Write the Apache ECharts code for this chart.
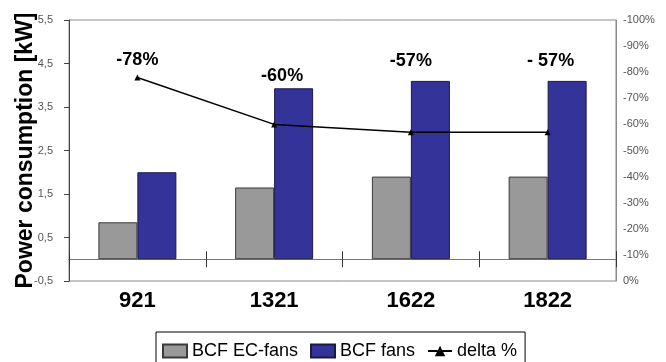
<!DOCTYPE html>
<html>
<head>
<meta charset="utf-8">
<script src="https://cdn.jsdelivr.net/npm/echarts@6/dist/echarts.min.js"></script>
<style>
  html, body { margin: 0; padding: 0; background: #ffffff; }
  #chart { width: 666px; height: 362px; }
</style>
</head>
<body>
<div id="chart"></div>
<script>
// Fan model sizes on the category axis
const categories = ['921', '1321', '1622', '1822'];
// Power consumption [kW]
const ecFans = [0.85, 1.65, 1.9, 1.9];
const bcfFans = [2.0, 3.93, 4.1, 4.1];
// Relative saving, percent (right axis)
const delta = [-78, -60, -57, -57];
const deltaText = ['-78%', '-60%', '-57%', '- 57%'];
// Left axis tick values
const powerTicks = [-0.5, 0.5, 1.5, 2.5, 3.5, 4.5, 5.5];

// Where each percentage caption sits relative to its point [dx, dy]
const captionShift = [[0, -17], [8, -48], [0, -71], [3, -71]];

const FONT = '"Liberation Sans", Arial, sans-serif';

const chart = echarts.init(document.getElementById('chart'), null, { renderer: 'canvas' });

const deltaData = delta.map((v, i) => ({
  value: v,
  label: { offset: captionShift[i] }
}));

chart.setOption({
  animation: false,
  backgroundColor: '#ffffff',
  textStyle: { fontFamily: FONT },
  grid: {
    left: 69, right: 50, top: 20, bottom: 81,
    outerBoundsMode: 'none',
    containLabel: false,
    show: true, borderColor: '#8a8a8a', borderWidth: 1, backgroundColor: 'transparent'
  },
  legend: {
    left: 156, top: 332,
    padding: [10, 8, 10, 6],
    borderColor: '#000000', borderWidth: 1,
    itemWidth: 24, itemHeight: 13, itemGap: 12,
    textStyle: { fontFamily: FONT, fontSize: 18, color: '#000000' },
    data: [
      { name: 'BCF EC-fans', icon: 'rect' },
      { name: 'BCF fans', icon: 'rect' },
      { name: 'delta %' }
    ]
  },
  xAxis: [
    {
      type: 'category',
      data: categories,
      position: 'bottom',
      axisLine: { onZero: true, onZeroAxisIndex: 0, lineStyle: { color: '#777777', width: 1 } },
      axisTick: { show: true, length: 8, lineStyle: { color: '#333333' } },
      axisLabel: { margin: 9, fontFamily: FONT, fontSize: 22, fontWeight: 'bold', color: '#000000' }
    },
    {
      type: 'category',
      data: categories,
      position: 'top',
      axisLine: { onZero: true, onZeroAxisIndex: 0, lineStyle: { color: '#777777', width: 1 } },
      axisTick: { show: true, length: 8, lineStyle: { color: '#333333' } },
      axisLabel: { show: false }
    }
  ],
  yAxis: [
    {
      type: 'value',
      min: -0.5, max: 5.5,
      name: 'Power consumption [kW]',
      nameLocation: 'middle',
      nameRotate: 90,
      nameGap: 32,
      nameMoveOverlap: false,
      nameTextStyle: { fontFamily: FONT, fontSize: 23, fontWeight: 'bold', color: '#000000' },
      axisLine: { show: true, lineStyle: { color: '#444444' } },
      axisTick: { show: true, length: 5, customValues: powerTicks, lineStyle: { color: '#444444' } },
      axisLabel: {
        customValues: powerTicks,
        margin: 16,
        fontFamily: FONT, fontSize: 11, color: '#555555',
        formatter: v => String(v).replace('.', ',')
      },
      splitLine: { show: false }
    },
    {
      type: 'value',
      min: -100, max: 0, interval: 10,
      inverse: true,
      position: 'right',
      axisLine: { show: true, lineStyle: { color: '#8a8a8a' } },
      axisTick: { show: false },
      axisLabel: {
        margin: 7,
        fontFamily: FONT, fontSize: 11, color: '#555555',
        formatter: v => v + '%'
      },
      splitLine: { show: false }
    }
  ],
  series: [
    {
      name: 'BCF EC-fans',
      type: 'bar',
      xAxisIndex: 0, yAxisIndex: 0,
      data: ecFans,
      barWidth: 39,
      barGap: '0%',
      itemStyle: { color: '#999999', borderColor: '#3a3a3a', borderWidth: 1 }
    },
    {
      name: 'BCF fans',
      type: 'bar',
      xAxisIndex: 0, yAxisIndex: 0,
      data: bcfFans,
      barWidth: 39,
      barGap: '0%',
      itemStyle: { color: '#333399', borderColor: '#1a1a40', borderWidth: 1 }
    },
    {
      name: 'delta %',
      type: 'line',
      xAxisIndex: 0, yAxisIndex: 1,
      data: deltaData,
      symbol: 'triangle',
      symbolSize: 6,
      lineStyle: { color: '#000000', width: 1.5 },
      itemStyle: { color: '#000000' },
      label: {
        show: true,
        position: 'inside',
        fontFamily: FONT, fontSize: 18, fontWeight: 'bold', color: '#000000',
        formatter: p => deltaText[p.dataIndex]
      },
      z: 5
    }
  ]
});
</script>
</body>
</html>
